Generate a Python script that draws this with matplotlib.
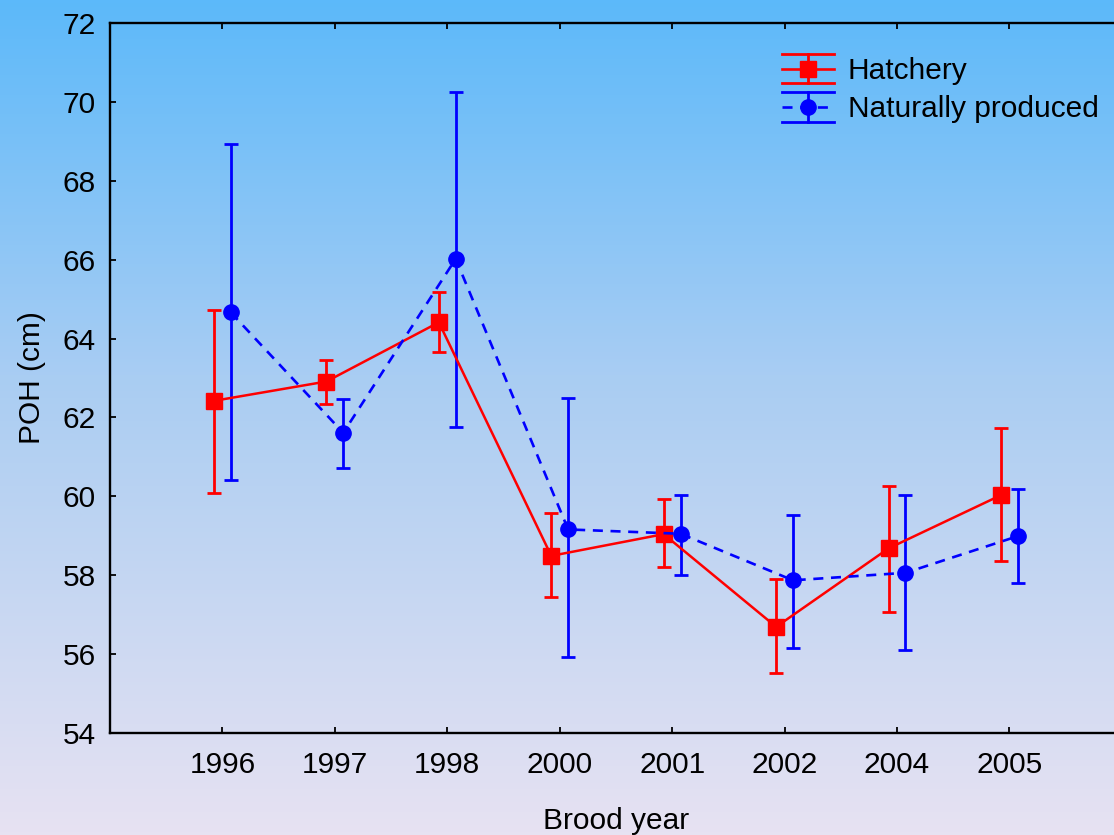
import matplotlib
matplotlib.use('Agg')
import matplotlib.pyplot as plt
import numpy as np
from matplotlib.lines import Line2D
from matplotlib.legend_handler import HandlerBase
from matplotlib.colors import LinearSegmentedColormap

plt.rcParams['font.family'] = ['Liberation Sans', 'DejaVu Sans']

# data
years = ['1996', '1997', '1998', '2000', '2001', '2002', '2004', '2005']
hatch_mean = [62.42, 62.91, 64.41, 58.49, 59.04, 56.69, 58.68, 60.03]
hatch_low = [60.08, 62.33, 63.67, 57.44, 58.21, 55.51, 57.07, 58.36]
hatch_high = [64.72, 63.46, 65.17, 59.58, 59.93, 57.90, 60.27, 61.74]
nat_mean = [64.66, 61.61, 66.02, 59.16, 59.05, 57.87, 58.06, 58.99]
nat_low = [60.42, 60.71, 61.76, 55.92, 58.00, 56.16, 56.10, 57.81]
nat_high = [68.92, 62.47, 70.25, 62.49, 60.03, 59.53, 60.03, 60.19]

x = np.arange(len(years))
hm, nm = np.array(hatch_mean), np.array(nat_mean)
h_err = [hm - np.array(hatch_low), np.array(hatch_high) - hm]
n_err = [nm - np.array(nat_low), np.array(nat_high) - nm]

FS = 21.5
DASH = (0, (3.8, 2.9))

fig = plt.figure(figsize=(11.14, 8.35), dpi=100)

# gradient background over the whole figure
bg = fig.add_axes([0, 0, 1, 1], zorder=0)
cmap = LinearSegmentedColormap.from_list(
    'bg', [(0.0, '#5cb9fa'), (0.45, '#a9cdf3'), (1.0, '#e7e2f2')])
bg.imshow(np.linspace(0, 1, 256).reshape(-1, 1), aspect='auto', cmap=cmap,
          extent=[0, 1, 1, 0])
bg.axis('off')

ax = fig.add_axes([0.0987, 0.1222, 0.9084, 0.8503], zorder=1)
ax.patch.set_alpha(0)

ax.errorbar(x - 0.075, hatch_mean, yerr=h_err, color='#ff0000', lw=1.8,
            elinewidth=2.0, capsize=4.8, capthick=2.0, marker='s', ms=11,
            label='Hatchery', zorder=3)
ax.errorbar(x + 0.075, nat_mean, yerr=n_err, color='#0000ff', lw=1.9,
            elinewidth=2.0, capsize=4.8, capthick=2.0, marker='o', ms=11,
            ls=DASH, label='Naturally produced', zorder=3)

ax.set_xlim(-1, 8)
ax.set_ylim(54, 72)
ax.set_xticks(x)
ax.set_xticklabels(years)
ax.set_yticks(np.arange(54, 73, 2))
ax.tick_params(direction='in', length=4.5, width=1.3, labelsize=FS,
               top=True, right=True)
ax.tick_params(axis='x', pad=13)
ax.tick_params(axis='y', pad=10)
for s in ax.spines.values():
    s.set_linewidth(1.7)

ax.set_xlabel('Brood year', fontsize=FS, labelpad=20)
ax.set_ylabel('POH (cm)', fontsize=FS, labelpad=12)


class ErrHandler(HandlerBase):
    def __init__(self, color, ls, marker):
        super().__init__()
        self.color, self.ls, self.marker = color, ls, marker

    def create_artists(self, legend, orig_handle, xdescent, ydescent, width,
                       height, fontsize, trans):
        x0, x1 = -xdescent, -xdescent + width
        xm = (x0 + x1) / 2
        yc = -ydescent + height / 2
        dy = 10.5
        arts = [
            Line2D([x0, x1], [yc + dy] * 2, color=self.color, lw=2.0),
            Line2D([x0, x1], [yc - dy] * 2, color=self.color, lw=2.0),
            Line2D([xm, xm], [yc - dy, yc + dy], color=self.color, lw=2.0),
            Line2D([x0, x1], [yc, yc], color=self.color, lw=1.9, ls=self.ls),
            Line2D([xm], [yc], color=self.color, marker=self.marker, ms=11, ls='none'),
        ]
        for a in arts:
            a.set_transform(trans)
        return arts


h1 = Line2D([], [], color='#ff0000')
h2 = Line2D([], [], color='#0000ff')
ax.legend([h1, h2], ['Hatchery', 'Naturally produced'],
          handler_map={h1: ErrHandler('#ff0000', '-', 's'),
                       h2: ErrHandler('#0000ff', DASH, 'o')},
          loc='upper left', bbox_to_anchor=(782 / 1114, 1 - 57 / 835),
          bbox_transform=fig.transFigure, frameon=False, fontsize=FS,
          handlelength=1.75, handletextpad=0.45, labelspacing=0.35,
          borderpad=0, borderaxespad=0)

fig.savefig('out.png', dpi=100)
